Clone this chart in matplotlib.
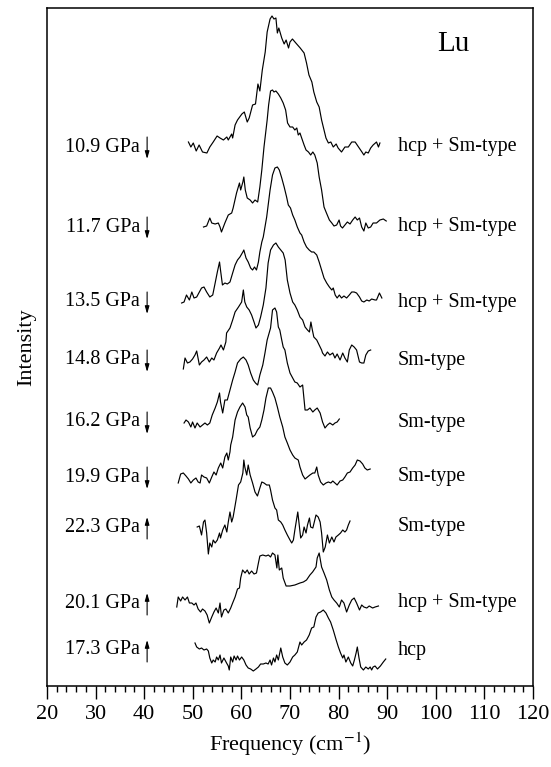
import matplotlib
matplotlib.use("Agg")
import matplotlib.pyplot as plt
from matplotlib.ticker import MultipleLocator

# ---------------- data (frequency cm^-1, relative intensity) ----------------
spec_10_9 = [(49.1,5),(49.6,0),(50.1,4),(50.7,-4),(51.3,2),(52.0,-5),(52.9,-6),(53.5,0),(54.2,5),(55.0,11),
             (55.6,9),(56.3,7),(57.0,10),(57.3,7),(58.0,13),(58.2,9),(58.7,22),(59.2,27),(60.1,33),(60.6,35),
             (61.2,25),(61.6,29),(62.3,42),(62.9,43),(63.4,63),(63.8,56),(64.3,77),(64.9,95),(65.3,115),(65.9,128),
             (66.3,131),(66.7,128),(67.1,129),(67.4,114),(67.7,119),(68.3,109),(68.8,103),(69.2,107),(69.7,99),(70.0,105),
             (70.5,108),(71.2,104),(72.1,99),(72.9,94),(73.4,84),(73.9,72),(74.5,65),(74.9,55),(75.5,45),(76.0,40),
             (76.5,27),(77.0,17),(77.4,9),(77.9,4),(78.4,5),(78.9,0),(79.5,3),(79.9,-1),(80.6,-5),(81.3,0),
             (82.0,0),(82.7,5),(83.4,5),(84.1,0),(84.8,-5),(85.2,-8),(85.6,-5),(86.1,-6),(86.6,-1),(87.1,2),
             (87.8,5),(88.2,0),(88.5,4)]
spec_11_7 = [(52.2,0),(52.85,1),(53.5,9),(53.9,4),(54.6,3),(55.25,4),(55.6,0),(55.9,-5),(56.6,4),(57.3,12),
             (58.0,14),(58.3,19),(59.0,34),(59.6,44),(59.85,37),(60.3,45),(60.5,50),(60.8,37),(61.2,29),(61.8,27),
             (62.3,24),(62.8,27),(63.35,25),(63.8,40),(64.2,57),(64.65,80),(65.06,97),(65.3,107),(65.6,122),(66.0,136),
             (66.4,137),(66.7,135),(67.1,136),(67.6,133),(68.1,129),(68.6,124),(69.1,117),(69.5,104),(70.0,100),(70.55,100),
             (71.0,97),(71.4,99),(71.7,92),(72.05,94),(72.4,89),(72.9,82),(73.3,77),(73.8,75),(74.25,72),(74.7,75),
             (75.1,72),(75.6,64),(76.0,50),(76.5,37),(77.0,20),(77.5,14),(78.1,7),(78.6,4),(79.05,1),(79.6,2),
             (80.1,7),(80.4,1),(80.8,-1),(81.3,2),(81.8,5),(82.35,3),(82.9,7),(83.4,10),(83.85,7),(84.3,9),
             (84.75,0),(85.2,-4),(85.6,4),(86.1,-1),(86.6,0),(87.1,4),(87.8,4),(88.5,7),(89.2,8),(89.8,6)]
spec_13_5 = [(47.7,-1),(48.2,0),(48.7,7),(49.3,2),(49.8,10),(50.25,4),(50.8,5),(51.35,10),(51.8,14),(52.3,15),
             (52.85,10),(53.5,5),(54.1,7),(54.6,19),(55.05,30),(55.5,40),(55.7,32),(56.1,17),(56.6,19),(57.1,18),
             (57.65,20),(58.2,29),(58.7,37),(59.2,42),(59.7,45),(60.3,50),(60.5,52),(60.95,44),(61.4,40),(61.9,34),
             (62.3,32),(62.7,35),(63.1,32),(63.5,40),(63.8,50),(64.2,60),(64.5,65),(65.2,85),(65.9,112),(66.4,127),
             (66.9,134),(67.4,135),(67.8,132),(68.3,124),(68.8,115),(69.3,105),(69.65,97),(70.1,94),(70.55,87),(71.0,82),
             (71.5,75),(72.05,69),(72.4,67),(72.9,60),(73.4,55),(73.95,52),(74.45,50),(74.9,50),(75.5,47),(76.0,40),
             (76.5,32),(77.0,24),(77.55,19),(78.1,15),(78.6,12),(78.9,14),(79.3,7),(79.7,4),(80.15,7),(80.6,4),
             (81.1,6),(81.65,4),(82.2,7),(82.7,10),(83.2,10),(83.7,9),(84.3,5),(84.75,1),(85.2,0),(85.8,2),
             (86.3,1),(86.8,3),(87.5,2),(87.8,2),(88.4,9),(88.9,4)]
spec_14_8 = [(48.05,-9),(48.4,2),(48.9,-3),(49.4,-2),(49.95,1),(50.45,5),(50.8,9),(51.35,-5),(51.8,-2),(52.3,0),
             (52.85,3),(53.4,-2),(53.9,2),(54.35,0),(54.9,7),(55.5,12),(55.8,15),(56.3,10),(56.8,18),(56.95,27),
             (57.65,32),(58.2,40),(58.7,48),(59.4,53),(60.05,58),(60.4,70),(60.7,58),(61.1,53),(61.6,50),(62.1,45),
             (62.6,38),(63.0,32),(63.5,35),(63.95,43),(64.5,55),(65.05,72),(65.5,97),(66.0,110),(66.6,115),(67.1,117),
             (67.6,113),(68.1,110),(68.6,107),(69.0,100),(69.45,80),(70.0,67),(70.55,58),(71.0,55),(71.5,50),(72.05,43),
             (72.6,40),(73.1,33),(73.6,30),(74.0,28),(74.3,38),(74.6,30),(74.9,23),(75.5,20),(76.0,15),(76.5,10),
             (76.7,7),(77.2,4),(77.7,8),(78.2,5),(78.8,7),(79.25,2),(79.7,6),(80.3,0),(80.85,7),(81.3,2),
             (81.8,-2),(82.2,10),(82.7,15),(83.2,13),(83.7,10),(84.3,-2),(84.75,-3),(85.2,-3),(85.6,5),(86.1,9),
             (86.6,10)]
spec_16_2 = [(48.2,-1),(48.6,2),(49.1,0),(49.6,-5),(49.95,0),(50.45,-6),(50.9,-1),(51.5,-5),(52.0,-3),(52.5,-1),
             (53.0,-3),(53.5,-1),(54.0,7),(54.6,14),(55.05,20),(55.5,29),(55.7,20),(56.15,9),(56.6,22),(57.1,22),
             (57.65,32),(58.2,42),(58.7,50),(59.2,59),(59.85,63),(60.4,65),(60.95,62),(61.4,57),(61.9,49),(62.45,42),
             (62.9,39),(63.35,37),(63.8,47),(64.4,57),(64.85,69),(65.3,82),(66.0,94),(66.4,112),(66.9,114),(67.25,110),
             (67.6,95),(67.9,92),(68.3,82),(68.6,75),(68.95,72),(69.45,59),(70.0,49),(70.55,44),(71.0,40),(71.5,39),
             (72.05,35),(72.6,37),(73.1,12),(73.6,12),(74.1,14),(74.7,10),(75.1,12),(75.6,14),(76.2,9),(76.7,0),
             (77.2,-6),(77.7,-3),(78.2,-1),(78.8,-3),(79.25,-1),(79.7,0),(80.15,3)]
spec_19_9 = [(47.0,-6),(47.5,3),(48.05,4),(48.6,1),(49.1,-2),(49.6,-6),(50.1,-3),(50.65,-1),(51.1,-5),(51.5,-6),
             (51.8,2),(52.3,0),(52.85,-1),(53.4,-6),(53.9,0),(54.35,5),(54.8,2),(55.25,9),(55.75,14),(56.15,9),
             (56.6,20),(57.0,24),(57.3,17),(57.65,25),(57.8,32),(58.2,40),(58.7,57),(59.2,65),(59.7,70),(60.25,74),
             (60.75,70),(61.1,62),(61.4,60),(61.8,49),(62.3,40),(62.8,42),(63.3,47),(63.8,50),(64.2,57),(64.65,67),
             (65.05,79),(65.55,89),(66.0,89),(66.4,85),(66.9,79),(67.4,70),(67.9,60),(68.5,50),(68.95,40),(69.45,34),
             (70.0,27),(70.55,22),(71.0,19),(71.7,17),(72.05,10),(72.6,2),(73.1,-2),(73.6,0),(74.1,2),(74.7,4),
             (75.1,4),(75.5,10),(75.8,2),(76.3,-5),(76.85,-8),(77.4,-6),(77.9,-5),(78.4,-6),(78.8,-4),(79.25,-6),
             (79.7,-8),(80.3,-4),(80.85,-3),(81.3,0),(81.8,4),(82.35,5),(82.9,9),(83.4,12),(83.85,17),(84.4,16),
             (84.95,13),(85.4,9),(85.9,7),(86.5,8)]
spec_22_3 = [(50.9,0),(51.35,1),(51.8,-8),(52.2,5),(52.5,7),(52.85,-6),(53.2,-27),(53.5,-16),(53.9,-20),(54.2,-13),
             (54.6,-16),(55.05,-13),(55.5,-6),(55.7,-11),(56.15,-3),(56.6,2),(57.0,-5),(57.3,5),(57.65,15),(58.0,5),
             (58.3,10),(58.9,27),(59.4,42),(59.85,45),(60.3,54),(60.5,67),(60.7,60),(61.1,52),(61.4,62),(61.8,52),
             (62.3,44),(62.8,35),(63.3,31),(63.8,39),(64.2,45),(64.65,44),(65.2,42),(65.75,42),(66.0,37),(66.4,27),
             (66.9,19),(67.25,17),(67.6,7),(68.1,5),(68.5,2),(68.95,-3),(69.45,-8),(70.0,-13),(70.35,-16),(70.7,-13),
             (71.0,-3),(71.4,9),(71.6,15),(71.9,2),(72.2,-11),(72.6,-8),(72.9,0),(73.3,-6),(73.6,2),(74.0,9),
             (74.25,0),(74.7,-1),(74.95,4),(75.35,12),(75.8,10),(76.2,5),(76.5,-6),(76.85,-25),(77.25,-20),(77.7,-8),
             (78.1,-16),(78.6,-10),(79.05,-15),(79.45,-10),(79.95,-8),(80.4,-6),(80.85,-3),(81.3,-5),(81.65,-3),(82.0,2),
             (82.35,6)]
spec_20_1 = [(46.7,-4),(47.0,6),(47.5,2),(47.9,6),(48.4,3),(48.9,6),(49.3,0),(49.8,0),(50.25,-2),(50.65,0),
             (51.1,-6),(51.6,-9),(52.0,-6),(52.5,-8),(52.95,-12),(53.4,-20),(53.9,-14),(54.35,-9),(54.8,-5),(55.25,-10),
             (55.6,0),(55.9,-14),(56.4,-7),(56.8,-6),(57.3,-10),(57.8,-5),(58.2,0),(58.7,6),(59.2,14),(59.6,15),
             (59.85,25),(60.25,33),(60.75,30),(61.2,33),(61.6,29),(62.1,32),(62.6,29),(63.1,30),(63.5,40),(63.8,47),
             (64.4,48),(65.05,47),(65.55,48),(66.0,46),(66.4,50),(66.9,48),(67.3,35),(67.5,48),(67.8,33),(68.3,35),
             (68.6,25),(69.2,17),(70.0,17),(71.0,18),(72.05,20),(72.75,21),(73.4,23),(74.1,28),(74.65,31),(75.35,36),
             (75.6,45),(76.0,50),(76.5,36),(77.0,30),(77.55,23),(78.1,13),(78.6,6),(79.05,3),(79.6,0),(80.15,-4),
             (80.6,3),(81.1,0),(81.65,-9),(82.2,-2),(82.7,3),(83.2,5),(83.7,0),(84.3,-7),(84.75,-2),(85.2,-4),
             (85.8,-5),(86.3,-3),(87.0,-5),(87.5,-4),(88.2,-3)]
spec_17_3 = [(50.45,7),(50.8,3),(51.35,1),(51.8,2),(52.3,0),(52.85,1),(53.2,-1),(53.5,-8),(53.9,-13),(54.2,-10),
             (54.6,-12),(54.9,-7),(55.25,-10),(55.6,-5),(55.9,-13),(56.4,-8),(56.95,-13),(57.3,-16),(57.5,-20),(57.8,-7),
             (58.2,-12),(58.5,-6),(58.9,-10),(59.2,-6),(59.6,-10),(60.05,-7),(60.5,-10),(60.95,-15),(61.4,-18),(61.9,-19),
             (62.45,-21),(63.0,-19),(63.5,-17),(63.95,-14),(64.5,-14),(65.05,-13),(65.5,-14),(65.9,-10),(66.2,-15),(66.6,-8),
             (66.9,-12),(67.25,-5),(67.6,-10),(68.1,2),(68.5,-7),(68.95,-13),(69.45,-15),(70.0,-12),(70.55,-7),(71.0,-5),
             (71.5,-2),(72.05,8),(72.4,5),(72.9,8),(73.4,10),(73.95,15),(74.45,22),(74.9,23),(75.35,33),(75.8,37),
             (76.3,38),(76.85,40),(77.4,37),(77.9,32),(78.35,28),(78.9,20),(79.5,10),(79.95,3),(80.4,-3),(80.85,-8),
             (81.1,-5),(81.5,-12),(82.0,-7),(82.5,-13),(82.9,-16),(83.25,-10),(83.6,-3),(83.85,3),(84.2,-8),(84.55,-17),
             (85.1,-20),(85.6,-17),(86.1,-19),(86.5,-17),(86.8,-20),(87.1,-17),(87.5,-16),(88.0,-19),(88.6,-16),(89.2,-12),
             (89.7,-9)]

spectra = [spec_10_9, spec_11_7, spec_13_5, spec_14_8, spec_16_2, spec_19_9, spec_22_3, spec_20_1, spec_17_3]
pressures = ["10.9 GPa", "11.7 GPa", "13.5 GPa", "14.8 GPa", "16.2 GPa", "19.9 GPa", "22.3 GPa", "20.1 GPa", "17.3 GPa"]
directions = ["down", "down", "down", "down", "down", "down", "up", "up", "up"]
phases = ["hcp + Sm-type", "hcp + Sm-type", "hcp + Sm-type", "Sm-type", "Sm-type", "Sm-type", "Sm-type",
          "hcp + Sm-type", "hcp"]
offsets = [539, 459, 384, 326, 264, 209, 159, 83, 36]

# ---------------- figure ----------------
serif = ["Liberation Serif", "DejaVu Serif"]
plt.rcParams["font.family"] = serif
plt.rcParams["mathtext.fontset"] = "stix"

W, H = 551, 767
fig = plt.figure(figsize=(W / 100, H / 100), dpi=100)
L, R, T, B = 47, 533, 7.5, 686
ax = fig.add_axes([L / W, (H - B) / H, (R - L) / W, (B - T) / H])
ax.set_xlim(20, 120)
ax.set_ylim(0, B - T)

for spec, off in zip(spectra, offsets):
    xs = [p[0] for p in spec]
    ys = [p[1] + off for p in spec]
    ax.plot(xs, ys, color="black", lw=0.85)

arrow_style = dict(arrowstyle="-|>,head_length=0.45,head_width=0.13", lw=0.8, color="black",
                   shrinkA=0, shrinkB=0)
for name, d, ph, off in zip(pressures, directions, phases, offsets):
    ax.text(39.1, off, name, ha="right", va="center", fontsize=14.5)
    top, bot = off + 10, off - 12
    if d == "down":
        ax.annotate("", xy=(40.6, bot), xytext=(40.6, top), arrowprops=arrow_style)
    else:
        ax.annotate("", xy=(40.6, top), xytext=(40.6, bot), arrowprops=arrow_style)
    ax.text(92.2, off, ph, ha="left", va="center", fontsize=14.5)

ax.text(103.7, 642, "Lu", ha="center", va="center", fontsize=21)

ax.xaxis.set_major_locator(MultipleLocator(10))
ax.xaxis.set_minor_locator(MultipleLocator(2))
ax.tick_params(axis="x", which="major", direction="out", length=9, width=1.0, labelsize=16, pad=5)
ax.tick_params(axis="x", which="minor", direction="out", length=4.5, width=1.0)
ax.set_yticks([])
for s in ax.spines.values():
    s.set_linewidth(1.1)

ax.set_xlabel(r"Frequency (cm$^{-1}$)", fontsize=16, labelpad=4)
ax.set_ylabel("Intensity", fontsize=16, labelpad=8)

fig.savefig("out.png", dpi=100)
